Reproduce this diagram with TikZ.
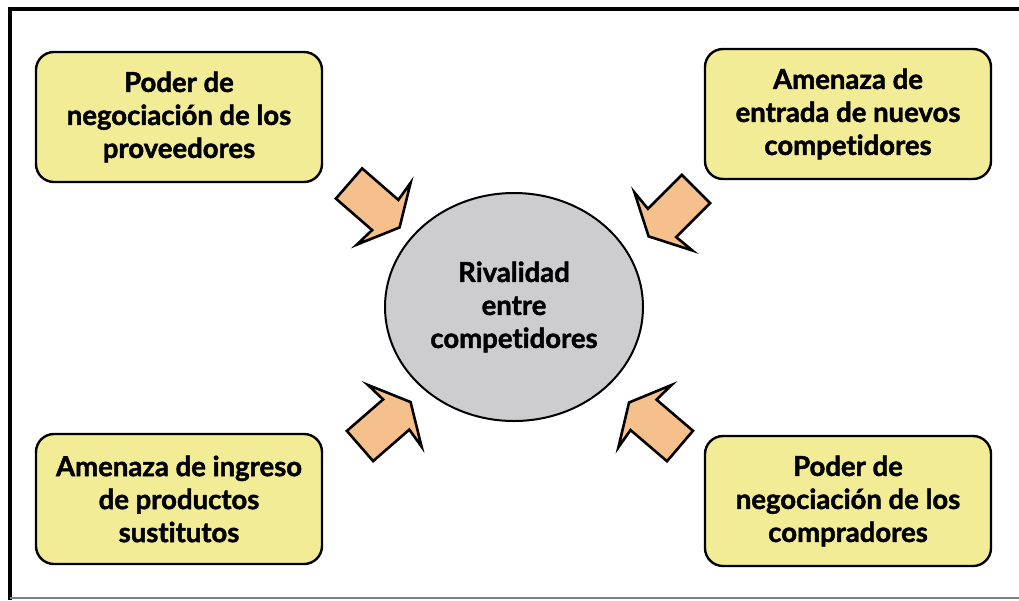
\documentclass[tikz,border=0pt]{standalone}
\usepackage{fontspec}
\setmainfont{Lato}[Ligatures=CommonOff,BoldFeatures={FakeBold=1.6}]
\usetikzlibrary{shapes.geometric}

\definecolor{boxyellow}{RGB}{242,236,150}
\definecolor{arrowpeach}{RGB}{246,192,140}
\definecolor{rivalgray}{RGB}{205,205,208}

% block arrow: tail centre (#1,#2), turned by #3
\newcommand{\forcearrow}[3]{%
    \begin{scope}[shift={(#1,#2)},rotate=#3]
        \filldraw[fill=arrowpeach,line width=2.6pt,line join=miter]
            (0,-20) -- (48,-20) -- (46,-41) -- (67,0) -- (46,41) -- (48,20) -- (0,20) -- cycle;
    \end{scope}}

\begin{document}
\begin{tikzpicture}[x=1pt,y=-1pt,
        force/.style={draw,line width=2.4pt,fill=boxyellow,rounded corners=18pt,
            minimum width=286pt,minimum height=130pt,align=center,
            font=\fontsize{27.5}{33}\selectfont\bfseries},
        rival/.style={ellipse,draw,line width=2pt,fill=rivalgray,
            minimum width=258pt,minimum height=228pt,align=center,
            font=\fontsize{27.5}{33}\selectfont\bfseries}]
    \useasboundingbox (0,0) rectangle (1019,600);

    \draw[line width=3.5pt] (1019,9) -- (10,9) -- (10,600);
    \draw[line width=2pt,gray] (10,598) -- (1019,598);

    \node[force] (proveedores) at (179,117) {Poder de\\negociación de los\\proveedores};
    \node[force] (entrantes) at (848,114) {Amenaza de\\entrada de nuevos\\competidores};
    \node[force] (sustitutos) at (179,499) {Amenaza de ingreso\\de productos\\sustitutos};
    \node[force] (compradores) at (848,501) {Poder de\\negociación de los\\compradores};

    \node[rival] (rivalidad) at (514,307) {Rivalidad\\entre\\competidores};

    \forcearrow{349}{183.5}{-41}
    \forcearrow{696}{189}{-135}
    \forcearrow{360}{446}{41}
    \forcearrow{680}{446}{139.5}
\end{tikzpicture}
\end{document}
